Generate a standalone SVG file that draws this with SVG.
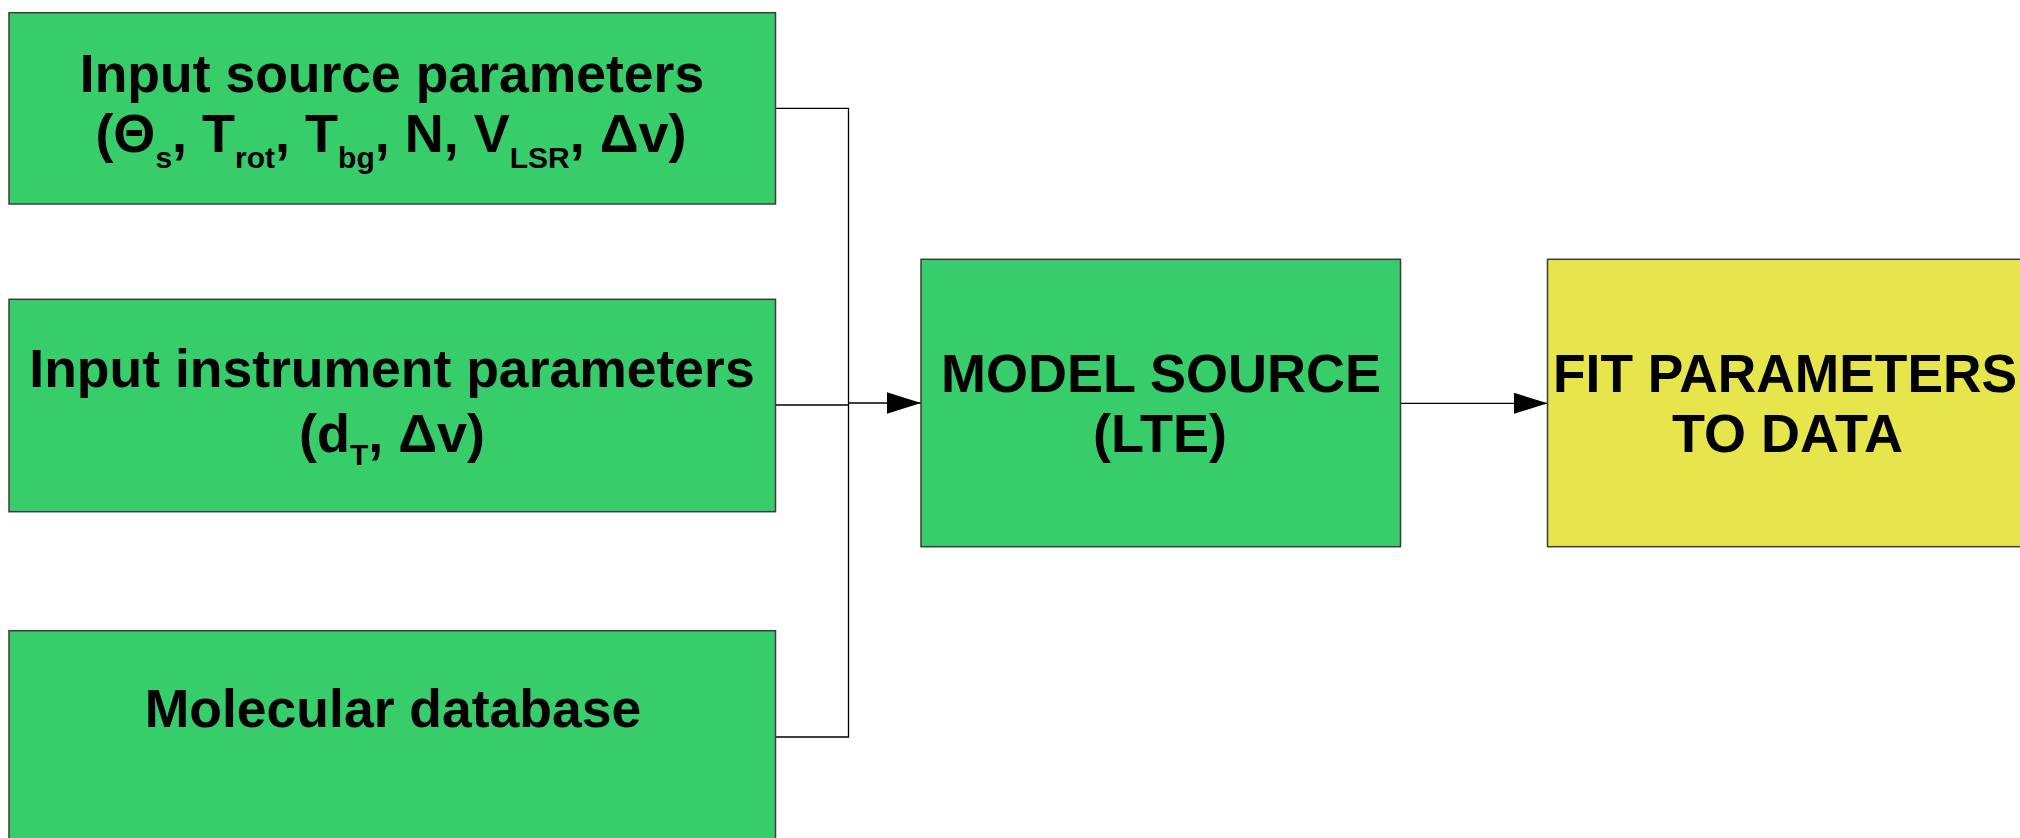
<svg xmlns="http://www.w3.org/2000/svg" width="2020" height="838" viewBox="0 0 2020 838">
  <style>
    .box { stroke: #3c3c3c; stroke-width: 1.5; }
    .green { fill: #36cd6a; }
    .yellow { fill: #e6e54c; }
    .lbl { font-family: "Liberation Sans", Arial, sans-serif; font-weight: bold; fill: #000; }
    .sub { font-size: 30px; }
    .conn { fill: none; stroke: #000; stroke-width: 1.3; }
  </style>
  <defs>
    <marker id="arrow" markerUnits="userSpaceOnUse" markerWidth="34" markerHeight="22" refX="34" refY="10.7" orient="auto">
      <path d="M0,0 L34,10.7 L0,21.4 Z" fill="#000"/>
    </marker>
  </defs>

  <rect width="2020" height="838" fill="#fff"/>

  <!-- Connectors -->
  <g id="connectors">
    <polyline class="conn" points="775.5,108.3 848.5,108.3 848.5,737 775.5,737"/>
    <line class="conn" x1="775.5" y1="405" x2="848.5" y2="405"/>
    <line class="conn" x1="848.5" y1="403" x2="921" y2="403" marker-end="url(#arrow)"/>
    <line class="conn" x1="1400.5" y1="403.3" x2="1547.5" y2="403.3" marker-end="url(#arrow)"/>
  </g>

  <!-- Source parameters -->
  <g id="node-source">
    <rect class="box green" x="9" y="12.7" width="766.5" height="191.3"/>
    <text class="lbl" x="392" y="92" font-size="53.5" text-anchor="middle">Input source parameters</text>
    <text class="lbl" x="391" y="152" font-size="54" text-anchor="middle">(Θ<tspan class="sub" dy="16">s</tspan><tspan dy="-16">, T</tspan><tspan class="sub" dy="16">rot</tspan><tspan dy="-16">, T</tspan><tspan class="sub" dy="16">bg</tspan><tspan dy="-16">, N, V</tspan><tspan class="sub" dy="16">LSR</tspan><tspan dy="-16">, Δv)</tspan></text>
  </g>

  <!-- Instrument parameters -->
  <g id="node-instrument">
    <rect class="box green" x="9" y="299.3" width="766.5" height="212.4"/>
    <text class="lbl" x="392" y="387" font-size="53.5" text-anchor="middle">Input instrument parameters</text>
    <text class="lbl" x="392" y="452" font-size="54" text-anchor="middle">(d<tspan class="sub" dy="13">T</tspan><tspan dy="-13">, Δv)</tspan></text>
  </g>

  <!-- Molecular database -->
  <g id="node-database">
    <rect class="box green" x="9" y="630.7" width="766.5" height="212.4"/>
    <text class="lbl" x="393" y="727" font-size="53.5" text-anchor="middle">Molecular database</text>
  </g>

  <!-- Model source -->
  <g id="node-model">
    <rect class="box green" x="921" y="259.3" width="479.5" height="287.4"/>
    <text class="lbl" x="1161" y="392" font-size="54" text-anchor="middle">MODEL SOURCE</text>
    <text class="lbl" x="1160" y="452" font-size="54" text-anchor="middle">(LTE)</text>
  </g>

  <!-- Fit parameters -->
  <g id="node-fit">
    <rect class="box yellow" x="1547.5" y="259.3" width="479.5" height="287.4"/>
    <text class="lbl" x="1553" y="392" font-size="54" textLength="464" lengthAdjust="spacingAndGlyphs">FIT PARAMETERS</text>
    <text class="lbl" x="1787.5" y="452" font-size="54" text-anchor="middle">TO DATA</text>
  </g>
</svg>
